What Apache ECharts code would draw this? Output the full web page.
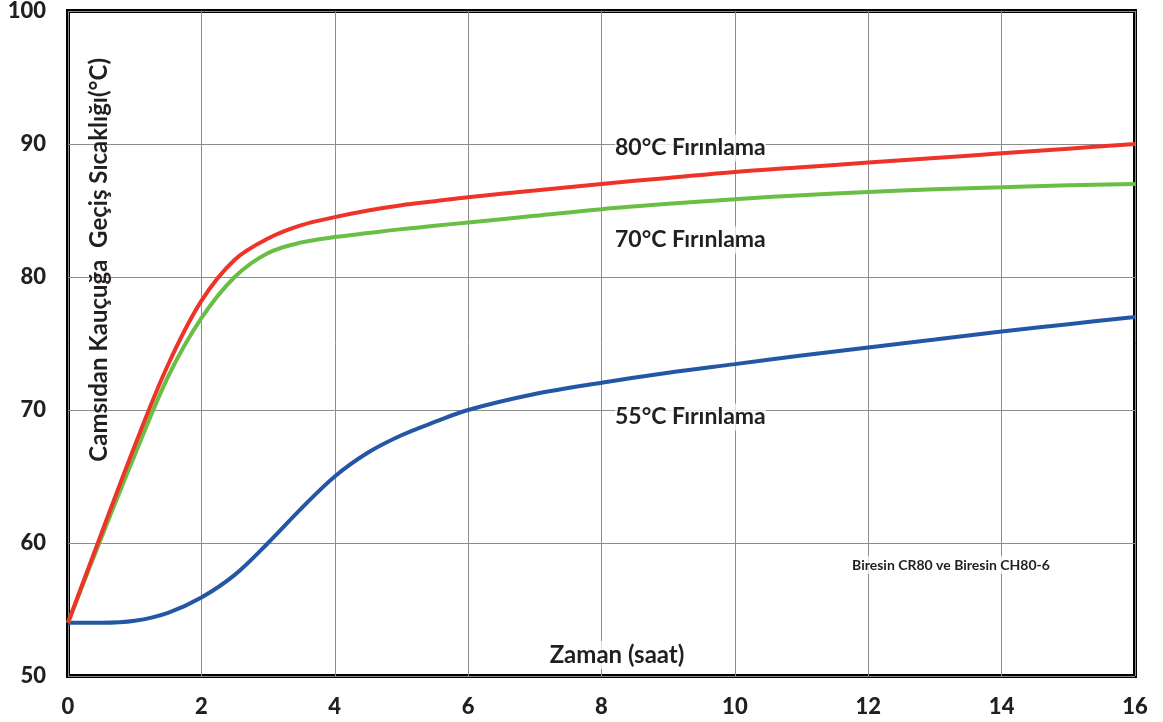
<!DOCTYPE html>
<html>
<head>
<meta charset="utf-8">
<script src="https://cdn.jsdelivr.net/npm/echarts@6/dist/echarts.min.js"></script>
<style>
html,body{margin:0;padding:0;background:#fff;}
#chart{width:1163px;height:722px;}
</style>
</head>
<body>
<div id="chart"></div>
<script>
var hours = [0, 0.5, 1, 1.5, 2, 2.5, 3, 3.5, 4, 4.5, 5, 5.5, 6, 7, 8, 9, 10, 11, 12, 13, 14, 15, 16];
var bake80 = [54, 60.7, 67.3, 73.4, 78.2, 81.3, 82.9, 83.9, 84.5, 85.0, 85.4, 85.7, 86.0, 86.5, 87.0, 87.45, 87.9, 88.25, 88.6, 88.95, 89.3, 89.65, 90];
var bake70 = [54, 60.4, 66.6, 72.5, 76.9, 80.0, 81.8, 82.6, 83.0, 83.3, 83.6, 83.85, 84.1, 84.6, 85.1, 85.5, 85.85, 86.15, 86.4, 86.6, 86.75, 86.9, 87];
var bake55 = [54, 54, 54.15, 54.75, 55.9, 57.6, 60.0, 62.6, 65.0, 66.8, 68.1, 69.1, 70.0, 71.2, 72.05, 72.8, 73.45, 74.1, 74.7, 75.3, 75.9, 76.45, 77];
var seriesNames = ['80°C Fırınlama', '70°C Fırınlama', '55°C Fırınlama'];
var xTicks = [0, 2, 4, 6, 8, 10, 12, 14, 16];
var yTicks = [50, 60, 70, 80, 90, 100];
var yTitle = 'Camsıdan Kauçuğa  Geçiş Sıcaklığı(°C)';
var xTitle = 'Zaman (saat)';
var note = 'Biresin CR80 ve Biresin CH80-6';

function pairs(ys){ return hours.map(function(h,i){ return [h, ys[i]]; }); }

var FONT = 'Lato, "Open Sans", sans-serif';
var TXT = '#231f20';
var BG = 'rgba(255,255,255,0.75)';

var chart = echarts.init(document.getElementById('chart'));
var lineDefs = [
  {name: seriesNames[0], data: bake80, color: '#ee3429'},
  {name: seriesNames[1], data: bake70, color: '#6abd45'},
  {name: seriesNames[2], data: bake55, color: '#2456a6'}
];
chart.setOption({
  animation: false,
  backgroundColor: '#fff',
  grid: {left: 68, right: 28, top: 10, bottom: 46, show: true, borderColor: '#000', borderWidth: 4, backgroundColor: 'transparent'},
  xAxis: {
    type: 'value', min: xTicks[0], max: xTicks[xTicks.length-1], interval: 2,
    axisLine: {show: false},
    axisTick: {show: false},
    splitLine: {show: true, lineStyle: {color: '#8c8c8c', width: 1}},
    axisLabel: {color: TXT, fontFamily: FONT, fontWeight: 900, fontSize: 22, margin: 20}
  },
  yAxis: {
    type: 'value', min: yTicks[0], max: yTicks[yTicks.length-1], interval: 10,
    axisLine: {show: false},
    axisTick: {show: false},
    splitLine: {show: true, lineStyle: {color: '#8c8c8c', width: 1}},
    axisLabel: {color: TXT, fontFamily: FONT, fontWeight: 900, fontSize: 22, margin: 22}
  },
  graphic: [
    {type: 'text', left: 87, top: 58, rotation: Math.PI/2, z: 10,
     style: {text: yTitle, fill: TXT, font: 'bold 24px ' + FONT}},
    {type: 'text', x: 617, y: 655, z: 10,
     style: {text: xTitle, fill: TXT, font: 'bold 24px ' + FONT, align: 'center', verticalAlign: 'middle', backgroundColor: BG, padding: [2, 8]}},
    {type: 'text', x: 951, y: 565, z: 10,
     style: {text: note, fill: TXT, font: 'bold 14px ' + FONT, align: 'center', verticalAlign: 'middle', backgroundColor: BG, padding: [2, 6]}},
    {type: 'text', x: 615, y: 148, z: 10,
     style: {text: seriesNames[0], fill: TXT, font: 'bold 23px ' + FONT, align: 'left', verticalAlign: 'middle', backgroundColor: BG, padding: [2, 0]}},
    {type: 'text', x: 615, y: 240, z: 10,
     style: {text: seriesNames[1], fill: TXT, font: 'bold 23px ' + FONT, align: 'left', verticalAlign: 'middle', backgroundColor: BG, padding: [2, 0]}},
    {type: 'text', x: 615, y: 417, z: 10,
     style: {text: seriesNames[2], fill: TXT, font: 'bold 23px ' + FONT, align: 'left', verticalAlign: 'middle', backgroundColor: BG, padding: [2, 0]}}
  ],
  series: lineDefs.slice().reverse().map(function(d){
    return {
      name: d.name, type: 'line', data: pairs(d.data), smooth: 0.35,
      showSymbol: false, symbol: 'none',
      lineStyle: {color: d.color, width: 4}, itemStyle: {color: d.color}, z: 5
    };
  })
});
</script>
</body>
</html>
